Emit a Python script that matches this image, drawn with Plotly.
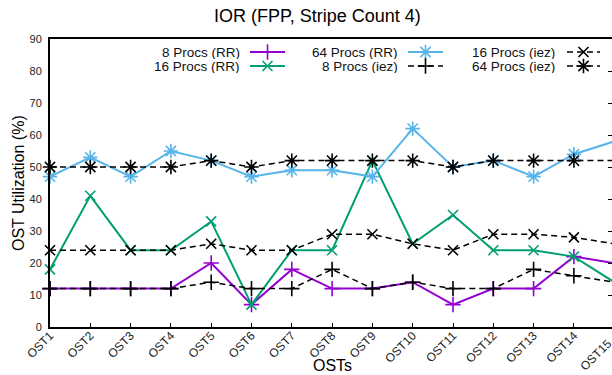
import plotly.graph_objects as go

# OST utilization (%) per OST, IOR file-per-process runs with stripe count 4
osts = [f"OST{i}" for i in range(1, 16)]

rr_8 = [12, 12, 12, 12, 20, 7, 18, 12, 12, 14, 7, 12, 12, 22, 20]
rr_16 = [18, 41, 24, 24, 33, 7, 24, 24, 52, 26, 35, 24, 24, 22, 14]
rr_64 = [47, 53, 47, 55, 52, 47, 49, 49, 47, 62, 50, 52, 47, 54, 58]
iez_8 = [12, 12, 12, 12, 14, 12, 12, 18, 12, 14, 12, 12, 18, 16, 14]
iez_16 = [24, 24, 24, 24, 26, 24, 24, 29, 29, 26, 24, 29, 29, 28, 26]
iez_64 = [50, 50, 50, 50, 52, 50, 52, 52, 52, 52, 50, 52, 52, 52, 52]

y_ticks = list(range(0, 91, 10))

FONT = "Liberation Sans, Arial, Helvetica, sans-serif"
PURPLE, GREEN, BLUE, BLACK = "#9400d3", "#009e73", "#56b4e9", "#000000"
DASH = "6px,4px"

series = [
    ("8 Procs (RR)", rr_8, PURPLE, "solid", 2, "cross-thin", 11),
    ("16 Procs (RR)", rr_16, GREEN, "solid", 2, "x-thin", 10),
    ("64 Procs (RR)", rr_64, BLUE, "solid", 2, "asterisk", 12),
    ("8 Procs (iez)", iez_8, BLACK, DASH, 1.5, "cross-thin", 11),
    ("16 Procs (iez)", iez_16, BLACK, DASH, 1.5, "x-thin", 10),
    ("64 Procs (iez)", iez_64, BLACK, DASH, 1.5, "asterisk", 12),
]

fig = go.Figure()

for name, vals, color, dash, lw, sym, size in series:
    fig.add_trace(go.Scatter(
        x=osts, y=vals, name=name, mode="lines+markers",
        line=dict(color=color, width=lw, dash=dash),
        marker=dict(symbol=sym, size=size, color=color,
                    line=dict(color=color, width=1.6)),
        cliponaxis=False, showlegend=False, hoverinfo="skip",
    ))

# Key: three columns of two rows, label right-aligned before its sample
PL, PR, PT, PB = 50, 612, 39, 327
STEP = 40.3  # pixel spacing between neighbouring OSTs
key_cols = [(242, 250, 285), (400, 408, 443), (557, 567, 600)]
key_rows = [52, 66]
annotations = []
for i, (name, vals, color, dash, lw, sym, size) in enumerate(series):
    col, row = divmod(i, 2)
    tx, x0, x1 = key_cols[col]
    ky = key_rows[row]
    fig.add_trace(go.Scatter(
        x=[x0, x1], y=[ky, ky], mode="lines", xaxis="x2", yaxis="y2",
        line=dict(color=color, width=lw, dash=dash),
        showlegend=False, hoverinfo="skip", cliponaxis=False,
    ))
    fig.add_trace(go.Scatter(
        x=[(x0 + x1) / 2], y=[ky], mode="markers", xaxis="x2", yaxis="y2",
        marker=dict(symbol=sym, size=size, color=color,
                    line=dict(color=color, width=1.6)),
        showlegend=False, hoverinfo="skip", cliponaxis=False,
    ))
    annotations.append(dict(
        x=tx, y=ky, xref="x2", yref="y2", text=name, showarrow=False,
        xanchor="right", yanchor="middle", height=14,
        font=dict(family=FONT, size=13.5, color="#111"),
    ))

# mirrored tick marks along the right edge
fig.add_trace(go.Scatter(x=[], y=[], xaxis="x", yaxis="y3",
                         showlegend=False, hoverinfo="skip"))


def px_x(p):
    return (p - PL) / (PR - PL)


def px_y(p):
    return (PB - p) / (PB - PT)


# the last OST sits on the right border, past the visible range,
# so its label is placed by hand at the same offset as the others
last_tick_px = PL + (len(osts) - 1) * STEP
annotations.append(dict(
    x=px_x(last_tick_px + 3), y=px_y(PB + 7), xref="paper", yref="paper",
    text=osts[-1], showarrow=False, textangle=-45,
    xanchor="right", yanchor="top",
    font=dict(family=FONT, size=12, color="#222"),
))

annotations += [
    dict(x=px_x(317), y=px_y(16), xref="paper", yref="paper",
         text="IOR (FPP, Stripe Count 4)", showarrow=False,
         xanchor="center", yanchor="middle",
         font=dict(family=FONT, size=18, color="#000")),
    dict(x=px_x(332), y=px_y(365), xref="paper", yref="paper",
         text="OSTs", showarrow=False, xanchor="center", yanchor="middle",
         font=dict(family=FONT, size=16, color="#000")),
    dict(x=px_x(18), y=px_y(183), xref="paper", yref="paper",
         text="OST Utilization (%)", showarrow=False, textangle=-90,
         xanchor="center", yanchor="middle",
         font=dict(family=FONT, size=16, color="#000")),
]

fig.update_layout(
    width=612, height=375,
    margin=dict(l=PL, r=612 - PR, t=PT, b=375 - PB, pad=0),
    paper_bgcolor="white", plot_bgcolor="white",
    font=dict(family=FONT, size=11, color="#222"),
    xaxis=dict(
        type="category", categoryorder="array", categoryarray=osts,
        range=[0, (PR - PL) / STEP], showgrid=False, zeroline=False,
        showline=True, linecolor="black", linewidth=2, mirror=True,
        ticks="inside", ticklen=4, tickwidth=1, tickcolor="black",
        tickangle=-45, ticklabelstandoff=-5,
        tickfont=dict(family=FONT, size=12, color="#222"),
    ),
    yaxis=dict(
        range=[0, 90], tickvals=y_ticks, showgrid=False, zeroline=False,
        showline=True, linecolor="black", linewidth=2,
        ticks="", ticklabelstandoff=4,
        tickfont=dict(family=FONT, size=11, color="#222"),
    ),
    yaxis3=dict(
        overlaying="y", side="right", range=[0, 90], tickvals=y_ticks,
        ticks="inside", ticklen=4, tickwidth=1, tickcolor="black",
        showticklabels=False, showgrid=False, zeroline=False, showline=False,
    ),
    xaxis2=dict(overlaying="x", range=[PL, PR], visible=False),
    yaxis2=dict(overlaying="y", range=[PB, PT], visible=False),
    annotations=annotations,
    showlegend=False,
)

fig.write_html("out.html")
